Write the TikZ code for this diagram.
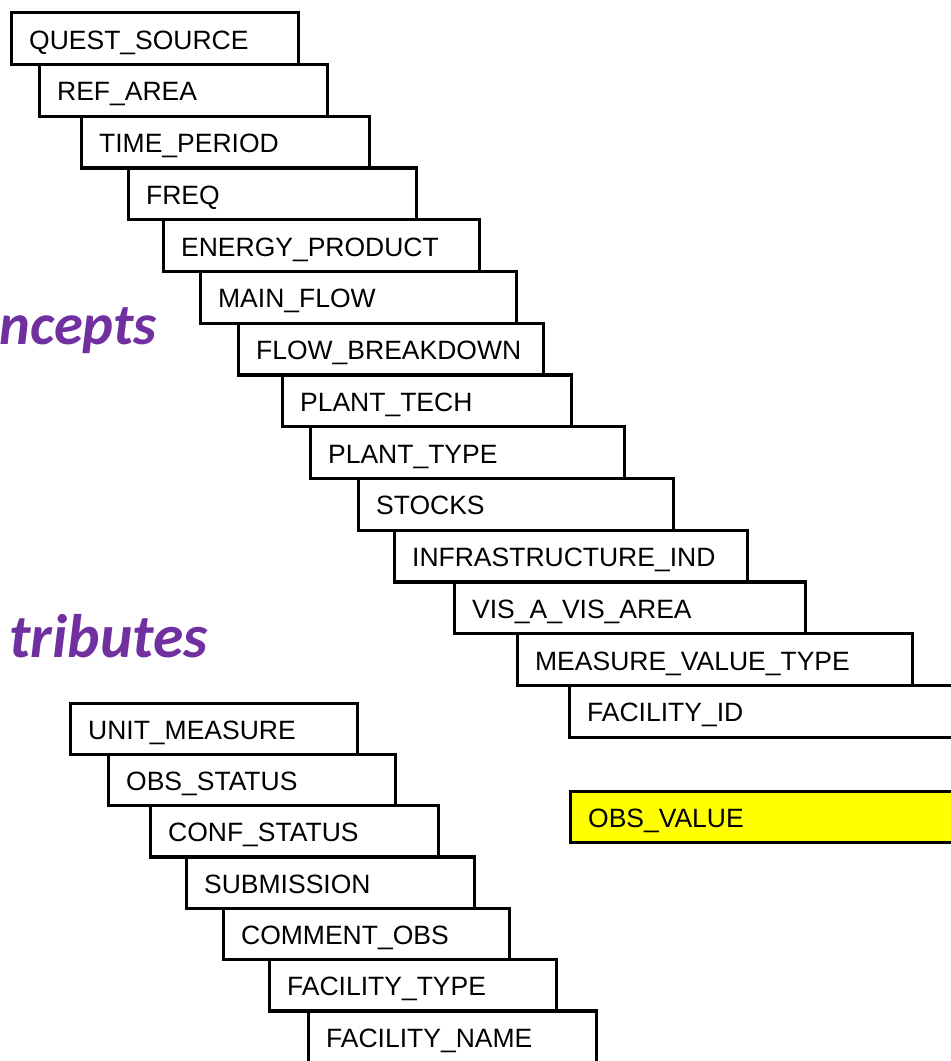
\documentclass[tikz,border=0pt]{standalone}
\usepackage{fontspec}
\setmainfont{Liberation Sans}
\newfontfamily\headfont{Carlito}
\definecolor{headpurple}{HTML}{7030A0}
\definecolor{obsyellow}{HTML}{FFFF00}

\tikzset{
    field/.style={draw, line width=3.3pt, anchor=north west, minimum height=51.75pt,
        inner xsep=17.5pt, inner ysep=0pt, text width=#1, align=left,
        text height=21pt, text depth=0pt,
        font=\fontsize{26.5}{30}\selectfont},
    head/.style={anchor=base east, inner sep=0pt, text=headpurple,
        font=\headfont\bfseries\itshape\fontsize{#1}{68}\selectfont}
}

\begin{document}
\begin{tikzpicture}[x=1pt, y=1pt]

    \useasboundingbox (0, 0) rectangle (951, -1061);
    \clip (0, 0) rectangle (951, -1061); % page

    % Group labels
    \node[head=58.5] (concepts) at (157, -344) {ncepts};
    \node[head=61.5] (attributes) at (208, -657) {tributes};

    \begin{scope}
        \node[field=252pt] (qsource) at (10, -11) {QUEST\_SOURCE};
        \node[field=253pt] (refarea) at (38, -62.75) {REF\_AREA};
        \node[field=253pt] (timeperiod) at (80, -114.5) {TIME\_PERIOD};
        \node[field=253pt] (freq) at (127, -166.25) {FREQ};
        \node[field=281pt] (energyprod) at (162, -218) {ENERGY\_PRODUCT};
        \node[field=281pt] (mainflow) at (199, -269.75) {MAIN\_FLOW};
        \node[field=270pt] (flowbreak) at (237, -321.5) {FLOW\_BREAKDOWN};
        \node[field=254pt] (planttech) at (281, -373.25) {PLANT\_TECH};
        \node[field=279pt] (planttype) at (309, -425) {PLANT\_TYPE};
        \node[field=280pt] (stocks) at (357, -476.75) {STOCKS};
        \node[field=318pt] (infraind) at (393, -528.5) {INFRASTRUCTURE\_IND};
        \node[field=316pt] (visavis) at (453, -580.25) {VIS\_A\_VIS\_AREA};
        \node[field=360pt] (measuretype) at (516, -632) {MEASURE\_VALUE\_TYPE};
        \node[field=397pt] (facilityid) at (568, -683.75) {FACILITY\_ID};
    \end{scope}

    % Observation value
    \node[field=397pt, fill=obsyellow, minimum height=51pt] (obsvalue) at (569, -790) {OBS\_VALUE};

    \begin{scope}[field/.append style={minimum height=51.3pt}]
        \node[field=252pt] (unitmeasure) at (69, -701.5) {UNIT\_MEASURE};
        \node[field=252pt] (obsstatus) at (107, -752.8) {OBS\_STATUS};
        \node[field=253pt] (confstatus) at (149, -804.1) {CONF\_STATUS};
        \node[field=253pt] (submission) at (185, -855.4) {SUBMISSION};
        \node[field=251pt] (commentobs) at (222, -906.7) {COMMENT\_OBS};
        \node[field=252pt] (facilitytype) at (268, -958) {FACILITY\_TYPE};
        \node[field=253pt] (facilityname) at (307, -1009.3) {FACILITY\_NAME};
    \end{scope}

\end{tikzpicture}
\end{document}
